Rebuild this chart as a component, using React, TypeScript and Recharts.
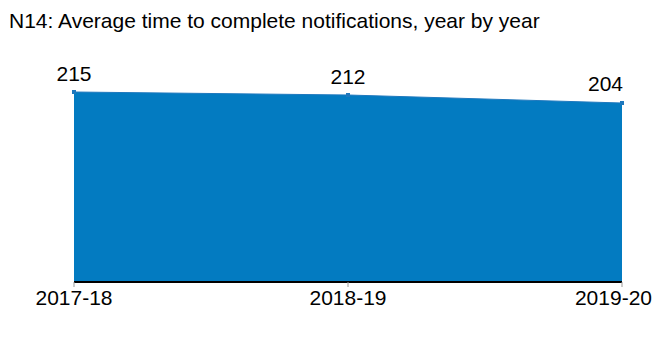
import { Area, AreaChart, LabelList, XAxis, YAxis } from "recharts";

const years = ["2017-18", "2018-19", "2019-20"];
const avgDays = [215, 212, 204];

const data = years.map((year, i) => ({ year, days: avgDays[i] }));

const BLUE = "#037BC1";
const FONT = "Arial, 'Liberation Sans', sans-serif";
const lastYear = years[years.length - 1];

function SquareDot(props: any) {
  const { cx, cy } = props;
  if (cx == null || cy == null) return null;
  return <rect x={cx - 2} y={cy - 2} width={4} height={4} fill="#1F78BD" />;
}

function ValueLabel(props: any) {
  const { x, y, value, index } = props;
  const last = index === data.length - 1;
  return (
    <text
      x={last ? x + 1 : x}
      y={y - (last ? 12 : 11)}
      textAnchor={last ? "end" : "middle"}
      fontSize={21}
      fontFamily={FONT}
      fill="#000"
    >
      {value}
    </text>
  );
}

function YearTick(props: any) {
  const { x, y, payload } = props;
  const last = payload.value === lastYear;
  return (
    <text
      x={last ? x + 30 : x}
      y={y + 16}
      textAnchor={last ? "end" : "middle"}
      fontSize={21}
      fontFamily={FONT}
      fill="#000"
    >
      {payload.value}
    </text>
  );
}

export default function App() {
  return (
    <div style={{ width: 660, height: 361, margin: -8, background: "#fff", fontFamily: FONT }}>
      <div
        style={{
          position: "relative",
          marginLeft: 4,
          marginTop: 0,
          paddingTop: 1,
          width: 656,
          height: 360,
          boxSizing: "border-box",
          borderTop: "2px solid #888",
          borderLeft: "2px solid #888",
        }}
      >
        <div
          style={{
            position: "absolute",
            left: 3,
            top: 7,
            fontSize: 21,
            lineHeight: "24px",
            color: "#000",
            whiteSpace: "nowrap",
          }}
        >
          N14: Average time to complete notifications, year by year
        </div>
        <div style={{ position: "absolute", left: -6, top: -3 }}>
          <AreaChart
            width={660}
            height={361}
            data={data}
            margin={{ top: 58, right: 38, bottom: 48, left: 74 }}
          >
            <YAxis hide domain={[25, 250]} />
            <XAxis
              dataKey="year"
              height={30}
              axisLine={{ stroke: "#000", strokeWidth: 2 }}
              tickLine={{ stroke: "#999" }}
              tickSize={5}
              tick={<YearTick />}
              interval={0}
            />
            <Area
              type="linear"
              dataKey="days"
              fill={BLUE}
              fillOpacity={1}
              stroke="#1F78BD"
              strokeWidth={1}
              dot={<SquareDot />}
              activeDot={false}
              isAnimationActive={false}
            >
              <LabelList dataKey="days" content={<ValueLabel />} />
            </Area>
          </AreaChart>
        </div>
      </div>
    </div>
  );
}
